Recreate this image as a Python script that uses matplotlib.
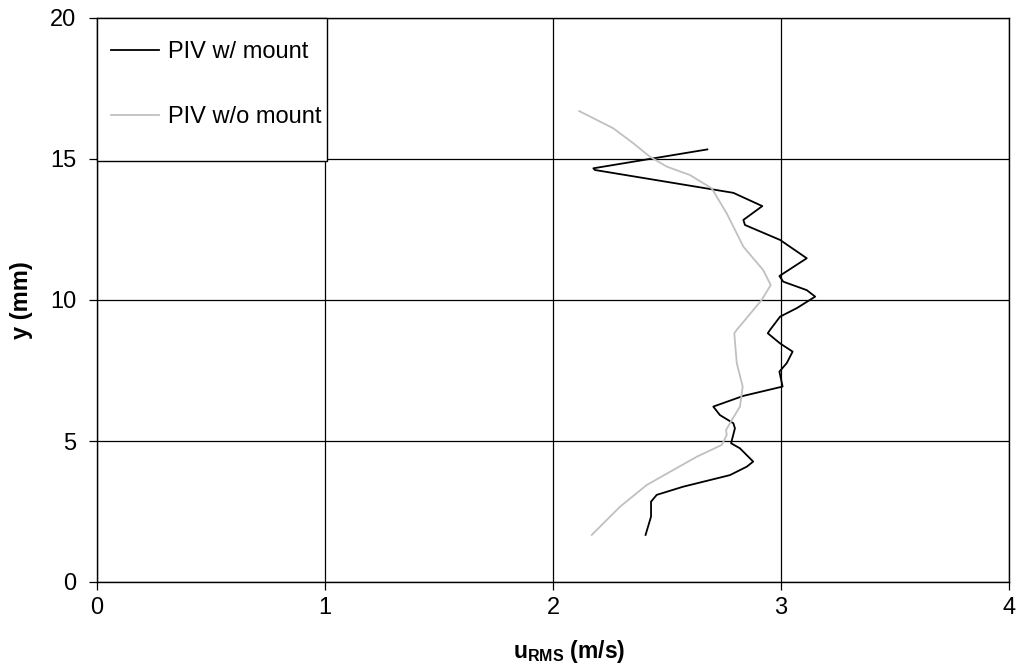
import matplotlib
matplotlib.use("Agg")
import matplotlib.pyplot as plt
from matplotlib.patches import Rectangle

plt.rcParams['font.family'] = ['Liberation Sans', 'DejaVu Sans']
plt.rcParams['mathtext.fontset'] = 'custom'
plt.rcParams['mathtext.rm'] = 'Liberation Sans'
plt.rcParams['mathtext.bf'] = 'Liberation Sans:bold'

# perfil con soporte (PIV w/ mount)
u_mount = [2.677, 2.177, 2.184, 2.791, 2.918, 2.835, 2.842, 2.996, 3.113, 2.993,
           3.010, 3.113, 3.150, 3.069, 2.996, 2.952, 2.942, 2.996, 3.051, 3.025,
           2.993, 3.007, 2.835, 2.703, 2.732, 2.791, 2.798, 2.781, 2.820, 2.878,
           2.850, 2.776, 2.571, 2.455, 2.430, 2.430, 2.406]
y_mount = [15.34, 14.67, 14.61, 13.80, 13.33, 12.84, 12.66, 12.13, 11.48, 10.85,
           10.65, 10.35, 10.12, 9.71, 9.41, 8.94, 8.82, 8.46, 8.17, 7.76,
           7.46, 6.93, 6.60, 6.22, 5.92, 5.63, 5.45, 4.92, 4.74, 4.27,
           4.09, 3.79, 3.38, 3.09, 2.85, 2.32, 1.67]

# perfil sin soporte (PIV w/o mount)
u_nomount = [2.115, 2.264, 2.352, 2.425, 2.499, 2.601, 2.696, 2.762, 2.835, 2.922,
             2.955, 2.915, 2.806, 2.795, 2.806, 2.832, 2.820, 2.784, 2.759, 2.762,
             2.740, 2.630, 2.411, 2.294, 2.170]
y_nomount = [16.70, 16.09, 15.56, 15.08, 14.73, 14.43, 13.96, 13.07, 11.89, 11.06,
             10.53, 10.00, 8.94, 8.82, 7.76, 6.93, 6.22, 5.74, 5.39, 5.21,
             4.86, 4.44, 3.44, 2.67, 1.67]

x_ticks = [0, 1, 2, 3, 4]
y_ticks = [0, 5, 10, 15, 20]

fig = plt.figure(figsize=(10.16, 6.70), dpi=100)
ax = fig.add_axes([97 / 1016, 88 / 670, 912 / 1016, 564 / 670])

ax.plot(u_mount, y_mount, color='black', lw=1.3, label='PIV w/ mount')
ax.plot(u_nomount, y_nomount, color='#c0c0c0', lw=1.3, label='PIV w/o mount')

ax.set_xlim(0, 4)
ax.set_ylim(0, 20)
ax.set_xticks(x_ticks)
ax.set_yticks(y_ticks)
ax.grid(True, color='black', lw=0.9)
ax.set_axisbelow(True)
for s in ax.spines.values():
    s.set_color('black')
    s.set_linewidth(1.0)
ax.tick_params(direction='out', length=6, width=0.9, labelsize=17)
ax.tick_params(axis='x', pad=5)
ax.tick_params(axis='y', pad=9)

ax.set_xlabel(r'$\mathbf{u}_{\mathbf{RMS}}$ (m/s)', fontsize=16.5, fontweight='bold')
ax.xaxis.set_label_coords(0.5175, -0.100)
ax.set_ylabel('y (mm)', fontsize=17, fontweight='bold')
ax.yaxis.set_label_coords(-0.070, 0.5)

# marco de la leyenda (caja blanca sobre la rejilla)
ax.add_patch(Rectangle((0, 0.7465), 0.252, 0.2535, transform=ax.transAxes,
                       facecolor='white', edgecolor='black', lw=1.0, zorder=4,
                       clip_on=False))
leg = ax.legend(loc='upper left', bbox_to_anchor=(0.0154, 0.959), borderaxespad=0,
                borderpad=0, frameon=False, fontsize=17,
                handlelength=2.05, handletextpad=0.35, labelspacing=1.82)
leg.set_zorder(5)

fig.savefig('out.png', dpi=100)
